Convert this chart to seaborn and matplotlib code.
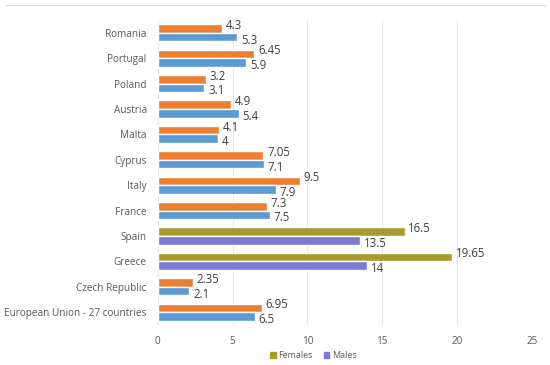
import seaborn as sns
import matplotlib.pyplot as plt
import pandas as pd
from matplotlib.patches import Patch

countries = ['Romania', 'Portugal', 'Poland', 'Austria', 'Malta', 'Cyprus', 'Italy',
             'France', 'Spain', 'Greece', 'Czech Republic', 'European Union - 27 countries']
females = [4.3, 6.45, 3.2, 4.9, 4.1, 7.05, 9.5, 7.3, 16.5, 19.65, 2.35, 6.95]
males = [5.3, 5.9, 3.1, 5.4, 4, 7.1, 7.9, 7.5, 13.5, 14, 2.1, 6.5]
female_labels = ['4.3', '6.45', '3.2', '4.9', '4.1', '7.05', '9.5', '7.3', '16.5', '19.65', '2.35', '6.95']
male_labels = ['5.3', '5.9', '3.1', '5.4', '4', '7.1', '7.9', '7.5', '13.5', '14', '2.1', '6.5']

df = pd.DataFrame({
    'country': countries * 2,
    'value': females + males,
    'sex': ['Females'] * len(countries) + ['Males'] * len(countries),
})

sns.set_style('white')
plt.rcParams['font.family'] = ['Open Sans', 'DejaVu Sans']

fig = plt.figure(figsize=(5.5, 3.65), dpi=100)
ax = fig.add_axes([0.287, 0.11, 0.68, 0.835])

orange, blue = '#ED7D31', '#5B9BD5'
olive, purple = '#A99A2E', '#7B7BD6'
sns.barplot(data=df, y='country', x='value', hue='sex', order=countries,
            hue_order=['Females', 'Males'], palette=[orange, blue],
            width=0.68, orient='h', ax=ax, legend=False, saturation=1)

# recolour the highlighted rows like the reference
fem_bars, male_bars = ax.containers[0], ax.containers[1]
for name in ['Spain', 'Greece']:
    i = countries.index(name)
    fem_bars[i].set_facecolor(olive)
    male_bars[i].set_facecolor(purple)

for bars, labels, dy in [(fem_bars, female_labels, -0.12), (male_bars, male_labels, 0.12)]:
    for bar, lab in zip(bars, labels):
        y = bar.get_y() + bar.get_height() / 2 + dy
        ax.text(bar.get_width() + 0.25, y, lab, va='center', ha='left',
                fontsize=8.3, color='#404040')

ax.set_xlim(0, 25)
ax.set_xticks([0, 5, 10, 15, 20, 25])
ax.set_ylim(len(countries) - 0.5, -0.5)
ax.xaxis.grid(True, color='#E6E6E6', linewidth=0.8)
ax.set_axisbelow(True)
for s in ax.spines.values():
    s.set_visible(False)
ax.set_xlabel('')
ax.set_ylabel('')
ax.tick_params(axis='both', length=0, labelsize=7.2, labelcolor='#595959')
ax.tick_params(axis='x', pad=8)
ax.tick_params(axis='y', pad=8)

handles = [Patch(color=olive, label='Females'), Patch(color=purple, label='Males')]
fig.legend(handles=handles, loc='center', bbox_to_anchor=(0.57, 0.025), ncol=2,
           frameon=False, fontsize=6.5, handlelength=0.6, handleheight=0.6,
           handletextpad=0.3, columnspacing=1.2, labelcolor='#595959')

fig.add_artist(plt.Line2D([0.01, 0.99], [0.985, 0.985], color='#D9D9D9', linewidth=0.8))

fig.savefig('out.png', dpi=100)
